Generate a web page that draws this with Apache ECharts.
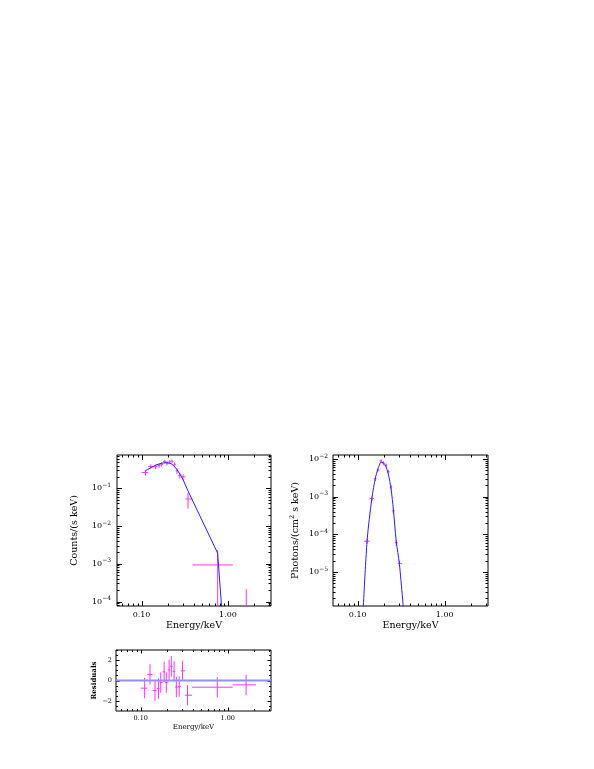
<!DOCTYPE html>
<html>
<head>
<meta charset="utf-8">
<script src="https://cdn.jsdelivr.net/npm/echarts@6/dist/echarts.min.js"></script>
<style>
  html, body { margin: 0; padding: 0; background: #fff; }
  #chart { width: 594px; height: 769px; }
</style>
</head>
<body>
<div id="chart"></div>
<script>
// spectral bins (keV)
var energy = [0.111, 0.128, 0.146, 0.160, 0.170, 0.186, 0.197, 0.212, 0.225, 0.242, 0.257, 0.277, 0.302, 0.345, 0.76, 1.63];
var binLo = [0.100, 0.119, 0.137, 0.153, 0.165, 0.178, 0.191, 0.204, 0.218, 0.233, 0.249, 0.267, 0.289, 0.323, 0.39, 1.14];
var binHi = [0.119, 0.137, 0.153, 0.165, 0.178, 0.191, 0.204, 0.218, 0.233, 0.249, 0.267, 0.289, 0.323, 0.39, 1.14, 2.12];

// folded spectrum, counts/(s keV)
var counts = [0.26, 0.38, 0.37, 0.40, 0.43, 0.51, 0.46, 0.50, 0.52, 0.43, 0.29, 0.22, 0.20, 0.052, 9.3e-4, -1.6e-4];
var countsErr = [0.045, 0.05, 0.05, 0.05, 0.055, 0.06, 0.06, 0.06, 0.06, 0.06, 0.05, 0.04, 0.035, 0.023, 1.4e-3, 3.7e-4];
var countsModel = [0.29, 0.35, 0.41, 0.44, 0.46, 0.475, 0.475, 0.46, 0.43, 0.37, 0.31, 0.24, 0.17, 0.085, 1.9e-3, 1e-13];

// unfolded spectrum, photons/(cm2 s keV)
var photons = [1.4e-7, 6.6e-5, 9.0e-4, 3.0e-3, 5.1e-3, 8.9e-3, 7.8e-3, 6.8e-3, 4.6e-3, 1.8e-3, 4.2e-4, 6.0e-5, 1.7e-5, 3.0e-7, null, null];
var photonsErr = [2e-8, 1e-5, 1.2e-4, 4e-4, 6e-4, 1.0e-3, 1.0e-3, 8e-4, 5e-4, 2.5e-4, 7e-5, 1.1e-5, 3e-6, 1e-7, null, null];
var photonsModel = [1.5e-7, 6.4e-5, 9.5e-4, 3.2e-3, 5.2e-3, 8.2e-3, 8.0e-3, 6.2e-3, 4.0e-3, 1.6e-3, 4.6e-4, 6.8e-5, 1.6e-5, 5e-7, null, null];

// (data - model) / sigma
var residuals = [-0.75, 0.6, -1.0, -0.8, -0.2, 0.85, -0.2, 1.05, 1.4, 0.9, -0.65, -0.6, 0.95, -1.45, -0.66, -0.43];

// axis ranges and ticks
var xRange = [0.052, 3.15];
var countsRange = [7.6e-5, 0.76];
var photonsRange = [1.26e-6, 0.0128];
var residRange = [-3, 3];
var xMajorTicks = [0.1, 1];
var xMinorTicks = [0.06, 0.07, 0.08, 0.09, 0.2, 0.3, 0.4, 0.5, 0.6, 0.7, 0.8, 0.9, 2, 3];
var countsDecades = [-5, -4, -3, -2, -1];
var photonsDecades = [-6, -5, -4, -3, -2];
var residMajorTicks = [-2, 0, 2];
var residMinorTicks = [-3, -2.5, -1.5, -1, -0.5, 0.5, 1, 1.5, 2.5, 3];

var LOG_FLOOR = 1e-15;
var FONT = 'DejaVu Serif';
var MAGENTA = '#ff33ff';
var BLUE = '#2222ff';

function logMajors(decades) {
  return decades.map(function (d) { return Math.pow(10, d); });
}
function logMinors(decades) {
  var out = [];
  decades.forEach(function (d) {
    for (var k = 2; k <= 9; k++) out.push(k * Math.pow(10, d));
  });
  return out;
}

// tick items: [x, y, 0 = x-axis tick / 1 = y-axis tick, major]
function tickData(xMaj, xMin, yMaj, yMin, xRef, yRef) {
  var d = [];
  xMaj.forEach(function (v) { d.push([v, yRef, 0, 1]); });
  xMin.forEach(function (v) { d.push([v, yRef, 0, 0]); });
  yMaj.forEach(function (v) { d.push([xRef, v, 1, 1]); });
  yMin.forEach(function (v) { d.push([xRef, v, 1, 0]); });
  return d;
}

function tickRenderer(majorLen, minorLen) {
  return function (params, api) {
    var cs = params.coordSys;
    var p = api.coord([api.value(0), api.value(1)]);
    var len = api.value(3) ? majorLen : minorLen;
    var style = { stroke: '#000', lineWidth: 1 };
    if (api.value(2) === 0) {
      var x = Math.round(p[0]) + 0.5;
      if (x < cs.x || x > cs.x + cs.width) return null;
      return { type: 'group', children: [
        { type: 'line', shape: { x1: x, y1: cs.y, x2: x, y2: cs.y + len }, style: style },
        { type: 'line', shape: { x1: x, y1: cs.y + cs.height, x2: x, y2: cs.y + cs.height - len }, style: style }
      ] };
    }
    var y = Math.round(p[1]) + 0.5;
    if (y < cs.y || y > cs.y + cs.height) return null;
    return { type: 'group', children: [
      { type: 'line', shape: { x1: cs.x, y1: y, x2: cs.x + len, y2: y }, style: style },
      { type: 'line', shape: { x1: cs.x + cs.width, y1: y, x2: cs.x + cs.width - len, y2: y }, style: style }
    ] };
  };
}

// error bar items: [E, y, binLo, binHi, yLo, yHi]
function errData(vals, errs, isLog) {
  var d = [];
  energy.forEach(function (e, i) {
    if (vals[i] == null) return;
    var c = vals[i], lo = vals[i] - errs[i], hi = vals[i] + errs[i];
    if (isLog) { c = Math.max(c, LOG_FLOOR); lo = Math.max(lo, LOG_FLOOR); }
    d.push([e, c, binLo[i], binHi[i], lo, hi]);
  });
  return d;
}

function errRenderer(params, api) {
  var c = api.coord([api.value(0), api.value(1)]);
  var l = api.coord([api.value(2), api.value(1)]);
  var r = api.coord([api.value(3), api.value(1)]);
  var b = api.coord([api.value(0), api.value(4)]);
  var t = api.coord([api.value(0), api.value(5)]);
  var style = { stroke: MAGENTA, lineWidth: 1 };
  return { type: 'group', children: [
    { type: 'line', shape: { x1: l[0], y1: c[1], x2: r[0], y2: c[1] }, style: style },
    { type: 'line', shape: { x1: c[0], y1: b[1], x2: c[0], y2: t[1] }, style: style }
  ] };
}

function modelData(vals) {
  var d = [];
  energy.forEach(function (e, i) { if (vals[i] != null) d.push([e, vals[i]]); });
  return d;
}

function decLabel(v) {
  var e = Math.log10(v);
  if (Math.abs(e - Math.round(e)) > 1e-6) return '';
  return v.toFixed(2);
}
function powLabel(v) {
  var e = Math.log10(v), r = Math.round(e);
  if (Math.abs(e - r) > 1e-6) return '';
  return '10{s|' + (r < 0 ? '\u2212' : '') + Math.abs(r) + '}';
}

function xAxisFor(gridIndex, size, nameSize, nameGap, margin) {
  return {
    type: 'log', logBase: 10, gridIndex: gridIndex,
    min: xRange[0], max: xRange[1],
    name: 'Energy/keV', nameLocation: 'middle', nameGap: nameGap,
    nameTextStyle: { color: '#000', fontFamily: FONT, fontSize: nameSize },
    axisLine: { show: false }, axisTick: { show: false }, splitLine: { show: false },
    axisLabel: { color: '#000', fontFamily: FONT, fontSize: size, margin: margin,
      showMinLabel: false, showMaxLabel: false, formatter: decLabel }
  };
}

var chart = echarts.init(document.getElementById('chart'), null, { renderer: 'canvas' });
var gridStyle = { show: true, borderColor: '#000', borderWidth: 1, backgroundColor: 'transparent', containLabel: false };

chart.setOption({
  animation: false,
  backgroundColor: '#fff',
  grid: [
    Object.assign({ left: 117, top: 455, width: 154, height: 151 }, gridStyle),
    Object.assign({ left: 333, top: 455, width: 155, height: 151 }, gridStyle),
    Object.assign({ left: 116, top: 650, width: 155, height: 61 }, gridStyle)
  ],
  xAxis: [
    xAxisFor(0, 8, 9.5, 15, 5),
    xAxisFor(1, 8, 9.5, 15, 5),
    xAxisFor(2, 6.5, 7, 13, 4)
  ],
  yAxis: [
    {
      type: 'log', logBase: 10, gridIndex: 0,
      min: countsRange[0], max: countsRange[1],
      name: 'Counts/(s keV)', nameLocation: 'middle', nameGap: 37, nameRotate: 90,
      nameTextStyle: { color: '#000', fontFamily: FONT, fontSize: 9.5 },
      axisLine: { show: false }, axisTick: { show: false }, splitLine: { show: false },
      axisLabel: { color: '#000', fontFamily: FONT, fontSize: 8, margin: 6,
        showMinLabel: false, showMaxLabel: false, formatter: powLabel,
        rich: { s: { fontFamily: FONT, fontSize: 6, padding: [0, 0, 6, 0] } } }
    },
    {
      type: 'log', logBase: 10, gridIndex: 1,
      min: photonsRange[0], max: photonsRange[1],
      name: 'Photons/(cm{s|2} s keV)', nameLocation: 'middle', nameGap: 31, nameRotate: 90,
      nameTextStyle: { color: '#000', fontFamily: FONT, fontSize: 9.5,
        rich: { s: { fontFamily: FONT, fontSize: 6.5, padding: [0, 0, 6, 0] } } },
      axisLine: { show: false }, axisTick: { show: false }, splitLine: { show: false },
      axisLabel: { color: '#000', fontFamily: FONT, fontSize: 8, margin: 5,
        showMinLabel: false, showMaxLabel: false, formatter: powLabel,
        rich: { s: { fontFamily: FONT, fontSize: 6, padding: [0, 0, 6, 0] } } }
    },
    {
      type: 'value', gridIndex: 2,
      min: residRange[0], max: residRange[1], interval: 1,
      name: 'Residuals', nameLocation: 'middle', nameGap: 18, nameRotate: 90,
      nameTextStyle: { color: '#000', fontFamily: FONT, fontSize: 7, fontWeight: 'bold' },
      axisLine: { show: false }, axisTick: { show: false }, splitLine: { show: false },
      axisLabel: { color: '#000', fontFamily: FONT, fontSize: 6.5, margin: 4,
        formatter: function (v) { return residMajorTicks.indexOf(v) >= 0 ? String(v).replace('-', '\u2212') : ''; } }
    }
  ],
  series: [
    // frame ticks
    {
      type: 'custom', xAxisIndex: 0, yAxisIndex: 0, silent: true, clip: true,
      renderItem: tickRenderer(5, 2.5),
      data: tickData(xMajorTicks, xMinorTicks, logMajors(countsDecades), logMinors(countsDecades), xRange[0], countsRange[0])
    },
    {
      type: 'custom', xAxisIndex: 1, yAxisIndex: 1, silent: true, clip: true,
      renderItem: tickRenderer(5, 2.5),
      data: tickData(xMajorTicks, xMinorTicks, logMajors(photonsDecades), logMinors(photonsDecades), xRange[0], photonsRange[0])
    },
    {
      type: 'custom', xAxisIndex: 2, yAxisIndex: 2, silent: true, clip: true,
      renderItem: tickRenderer(3.5, 2),
      data: tickData(xMajorTicks, xMinorTicks, residMajorTicks, residMinorTicks, xRange[0], 0)
    },
    // folded data + model
    {
      type: 'custom', xAxisIndex: 0, yAxisIndex: 0, silent: true, clip: true,
      renderItem: errRenderer, data: errData(counts, countsErr, true)
    },
    {
      type: 'line', xAxisIndex: 0, yAxisIndex: 0, silent: true, clip: true,
      symbol: 'none', lineStyle: { color: BLUE, width: 1 },
      data: modelData(countsModel)
    },
    // unfolded data + model
    {
      type: 'custom', xAxisIndex: 1, yAxisIndex: 1, silent: true, clip: true,
      renderItem: errRenderer, data: errData(photons, photonsErr, true)
    },
    {
      type: 'line', xAxisIndex: 1, yAxisIndex: 1, silent: true, clip: true,
      symbol: 'none', smooth: 0.3, lineStyle: { color: BLUE, width: 1 },
      data: modelData(photonsModel)
    },
    // residuals
    {
      type: 'line', xAxisIndex: 2, yAxisIndex: 2, silent: true, clip: true,
      symbol: 'none', lineStyle: { color: '#9090ff', width: 2 },
      data: [[xRange[0], 0], [xRange[1], 0]]
    },
    {
      type: 'custom', xAxisIndex: 2, yAxisIndex: 2, silent: true, clip: true,
      renderItem: errRenderer,
      data: errData(residuals, residuals.map(function () { return 1; }), false)
    }
  ]
});
</script>
</body>
</html>
